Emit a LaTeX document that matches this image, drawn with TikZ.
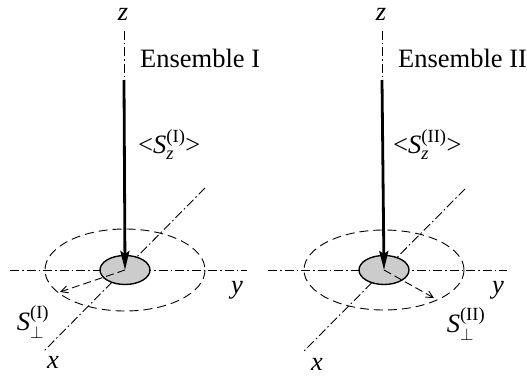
\documentclass[tikz,border=0pt]{standalone}
\usepackage{amsmath}
\usepackage{fontspec}
\setmainfont{Liberation Serif}
\usetikzlibrary{arrows.meta}
\tikzset{
  axisline/.style={line width=0.9pt, dash pattern=on 9pt off 3pt on 1.5pt off 3pt},
  orbit/.style={line width=0.9pt, dash pattern=on 9pt off 5pt},
  disc/.style={line width=1.4pt, fill=black!20},
  bigarrow/.style={line width=2.8pt, -{Stealth[length=19pt,width=9pt,inset=3pt]}},
  perparrow/.style={line width=0.9pt, dash pattern=on 8pt off 4pt, -{Straight Barb[length=7pt,width=7pt]}},
  lbl/.style={inner sep=0pt, font=\fontsize{26.5}{30}\selectfont},
}
\begin{document}
\begin{tikzpicture}[x=1pt,y=-1pt]
\useasboundingbox (0,0) rectangle (527,377);
% ---------- Ensemble I ----------
\coordinate (c1) at (125,270);
\coordinate (zt1) at (124,31);
\coordinate (zs1) at (124,80);
\coordinate (yl1) at (10,270);
\coordinate (yr1) at (247,270);
\coordinate (xa1) at (205,188);
\coordinate (xb1) at (43,352);
\coordinate (p1) at (60,292);
\draw[axisline] (zt1) -- (zs1);
\draw[axisline] (yl1) -- (yr1);
\draw[axisline] (xa1) -- (xb1);
\draw[orbit] (c1) ellipse [x radius=80, y radius=41];
\draw[disc] (c1) ellipse [x radius=25, y radius=14.5];
\draw[bigarrow] (zs1) -- (c1);
\draw[perparrow] (c1) -- (p1);
\node[lbl] (z1) at (123,14) {\textit{z}};
\node[lbl, anchor=west] (e1) at (140,58) {Ensemble I};
\node[lbl, anchor=west] (s1) at (138,145) {<$\text{\textit{S}}_{\text{\textit{z}}}^{\text{(I)}}$>};
\node[lbl] (y1) at (237,290) {\textit{y}};
\node[lbl] (x1) at (53,362) {\textit{x}};
\node[lbl] (sp1) at (33,322) {$\text{\textit{S}}_{\perp}^{\text{(I)}}$};
% ---------- Ensemble II ----------
\coordinate (c2) at (384,270);
\coordinate (zt2) at (382,31);
\coordinate (zs2) at (382,80);
\coordinate (yl2) at (268,270);
\coordinate (yr2) at (507,270);
\coordinate (xa2) at (465,189);
\coordinate (xb2) at (303,352);
\coordinate (p2) at (434,298);
\draw[axisline] (zt2) -- (zs2);
\draw[axisline] (yl2) -- (yr2);
\draw[axisline] (xa2) -- (xb2);
\draw[orbit] (c2) ellipse [x radius=80, y radius=40];
\draw[disc] (c2) ellipse [x radius=25, y radius=14.5];
\draw[bigarrow] (zs2) -- (c2);
\draw[perparrow] (c2) -- (p2);
\node[lbl] (z2) at (381,14) {\textit{z}};
\node[lbl, anchor=west] (e2) at (398,58) {Ensemble II};
\node[lbl, anchor=west] (s2) at (393,145) {<$\text{\textit{S}}_{\text{\textit{z}}}^{\text{(II)}}$>};
\node[lbl] (y2) at (498,290) {\textit{y}};
\node[lbl] (x2) at (317,364) {\textit{x}};
\node[lbl] (sp2) at (466,324) {$\text{\textit{S}}_{\perp}^{\text{(II)}}$};
\end{tikzpicture}
\end{document}
